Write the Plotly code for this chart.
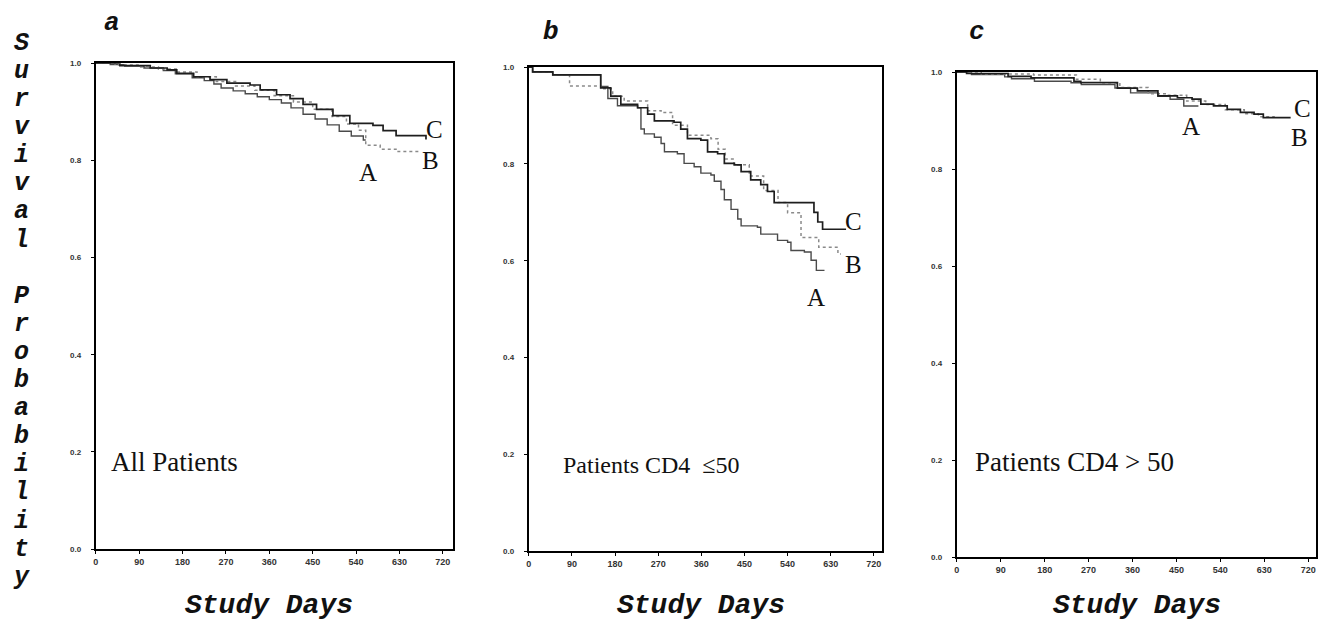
import plotly.graph_objects as go

W, H = 1328, 633

# ---------------- data ----------------
tick_days = [0, 90, 180, 270, 360, 450, 540, 630, 720]
tick_days_text = ["0", "90", "180", "270", "360", "450", "540", "630", "720"]
tick_prob = [0.0, 0.2, 0.4, 0.6, 0.8, 1.0]
tick_prob_text = ["0.0", "0.2", "0.4", "0.6", "0.8", "1.0"]

# Panel a : All patients
a_t_A = [0, 30, 60, 100, 140, 165, 200, 225, 245, 260, 285, 310, 335, 360, 385, 405, 430, 455, 480, 505, 530, 555, 560]
a_S_A = [1.0, 0.997, 0.994, 0.99, 0.985, 0.978, 0.97, 0.964, 0.957, 0.949, 0.943, 0.937, 0.931, 0.925, 0.918, 0.908, 0.895, 0.885, 0.873, 0.86, 0.85, 0.842, 0.842]
a_t_B = [0, 40, 90, 130, 170, 210, 250, 290, 330, 370, 410, 450, 490, 520, 545, 560, 590, 625, 672]
a_S_B = [1.0, 0.996, 0.992, 0.988, 0.982, 0.972, 0.962, 0.953, 0.944, 0.933, 0.92, 0.905, 0.89, 0.875, 0.862, 0.831, 0.823, 0.818, 0.816]
a_t_C = [0, 50, 113, 148, 168, 203, 237, 272, 320, 341, 375, 403, 430, 458, 492, 527, 575, 596, 623, 685]
a_S_C = [1.0, 0.995, 0.99, 0.986, 0.979, 0.972, 0.966, 0.959, 0.955, 0.945, 0.935, 0.927, 0.915, 0.905, 0.892, 0.876, 0.872, 0.861, 0.851, 0.843]

# Panel b : CD4 <= 50
b_t_A = [0, 8, 50, 150, 165, 185, 227, 234, 241, 262, 276, 283, 310, 324, 345, 359, 380, 387, 401, 408, 422, 436, 443, 477, 484, 519, 540, 547, 575, 589, 600, 617]
b_S_A = [1.0, 0.99, 0.984, 0.96, 0.935, 0.92, 0.916, 0.872, 0.862, 0.855, 0.842, 0.825, 0.821, 0.801, 0.794, 0.781, 0.777, 0.764, 0.747, 0.726, 0.706, 0.686, 0.672, 0.669, 0.655, 0.642, 0.638, 0.621, 0.618, 0.601, 0.58, 0.58]
b_t_B = [0, 8, 50, 85, 150, 175, 199, 248, 276, 300, 331, 380, 395, 410, 428, 460, 490, 520, 540, 568, 605, 645, 651]
b_S_B = [1.0, 0.99, 0.984, 0.961, 0.955, 0.94, 0.93, 0.91, 0.906, 0.88, 0.859, 0.852, 0.83, 0.81, 0.798, 0.775, 0.745, 0.72, 0.699, 0.648, 0.628, 0.614, 0.614]
b_t_C = [0, 8, 50, 150, 171, 192, 227, 248, 262, 303, 317, 331, 359, 373, 394, 408, 429, 443, 463, 484, 498, 512, 595, 603, 613, 662]
b_S_C = [1.0, 0.99, 0.984, 0.957, 0.94, 0.923, 0.916, 0.903, 0.889, 0.886, 0.872, 0.852, 0.849, 0.825, 0.821, 0.801, 0.798, 0.784, 0.767, 0.757, 0.743, 0.72, 0.70, 0.68, 0.665, 0.665]

# Panel c : CD4 > 50
c_t_A = [0, 30, 98, 112, 159, 234, 255, 324, 356, 412, 437, 465, 495]
c_S_A = [1.0, 0.995, 0.99, 0.986, 0.981, 0.978, 0.974, 0.967, 0.957, 0.95, 0.944, 0.93, 0.93]
c_t_B = [0, 50, 157, 245, 294, 334, 392, 432, 471, 510, 550, 589, 618, 650]
c_S_B = [1.0, 0.996, 0.994, 0.985, 0.978, 0.968, 0.955, 0.952, 0.94, 0.933, 0.922, 0.914, 0.908, 0.903]
c_t_C = [0, 20, 105, 152, 240, 254, 329, 370, 412, 452, 482, 500, 526, 554, 581, 609, 628, 684]
c_S_C = [1.0, 0.997, 0.991, 0.988, 0.981, 0.978, 0.967, 0.961, 0.951, 0.947, 0.944, 0.934, 0.930, 0.923, 0.917, 0.913, 0.906, 0.906]

panel_letters = ["a", "b", "c"]
panel_texts = ["All Patients", "Patients CD4  \u226450", "Patients CD4 > 50"]
group_names = ["A", "B", "C"]
xlabel = "Study Days"
ylabel = "Survival Probability"

# ---------------- layout geometry (pixels) ----------------
panels = [
    dict(x0=93, x1=451, ytop=60, ybot=553, xmax=741,
         series=[(a_t_A, a_S_A), (a_t_B, a_S_B), (a_t_C, a_S_C)],
         lab=[(565, 0.775), (694, 0.799), (703, 0.864)], txt=(28, 0.18, 27),
         letter=(109, 19), xl=267),
    dict(x0=527, x1=881, ytop=64, ybot=555, xmax=737,
         series=[(b_t_A, b_S_A), (b_t_B, b_S_B), (b_t_C, b_S_C)],
         lab=[(599, 0.525), (678, 0.593), (678, 0.680)], txt=(67, 0.178, 24),
         letter=(549, 28), xl=700),
    dict(x0=956, x1=1316, ytop=69, ybot=561, xmax=736,
         series=[(c_t_A, c_S_A), (c_t_B, c_S_B), (c_t_C, c_S_C)],
         lab=[(479, 0.888), (703, 0.864), (708, 0.925)], txt=(33, 0.195, 27),
         letter=(976, 28), xl=1137),
]

styles = [
    dict(color="#4a4a4a", width=1.4, dash="solid"),
    dict(color="#8a8a8a", width=1.5, dash="dot"),
    dict(color="#1e1e1e", width=1.7, dash="solid"),
]

mono = "Liberation Mono"
serif = "Liberation Serif"

fig = go.Figure()
annotations = []
layout_axes = {}

for i, p in enumerate(panels):
    sfx = "" if i == 0 else str(i + 1)
    xref, yref = "x" + sfx, "y" + sfx
    for (t, s), st, nm in zip(p["series"], styles, group_names):
        fig.add_trace(go.Scatter(
            x=t, y=s, mode="lines", name=nm, showlegend=False,
            line=dict(shape="hv", color=st["color"], width=st["width"], dash=st["dash"]),
            xaxis=xref, yaxis=yref, hoverinfo="skip"))
    layout_axes["xaxis" + sfx] = dict(
        domain=[p["x0"] / W, p["x1"] / W], range=[0, p["xmax"]], anchor=yref,
        tickvals=tick_days, ticktext=tick_days_text, showline=True, linecolor="black",
        linewidth=2, mirror=True, ticks="outside", ticklen=3, tickcolor="black",
        showgrid=False, zeroline=False,
        tickfont=dict(family="Liberation Sans", size=9, color="#333", weight="bold"))
    layout_axes["yaxis" + sfx] = dict(
        domain=[1 - p["ybot"] / H, 1 - p["ytop"] / H], range=[0, 1.0], anchor=xref,
        tickvals=tick_prob, ticktext=tick_prob_text, showline=True, linecolor="black",
        linewidth=2, mirror=True, ticks="outside", ticklen=3, tickcolor="black",
        showgrid=False, zeroline=False, ticklabelstandoff=8,
        tickfont=dict(family="Liberation Sans", size=8, color="#333", weight="bold"))
    for (lx, ly), nm in zip(p["lab"], group_names):
        annotations.append(dict(x=lx, y=ly, xref=xref, yref=yref, text=nm, showarrow=False,
                                font=dict(family=serif, size=25, color="#111"),
                                xanchor="center", yanchor="middle"))
    annotations.append(dict(x=p["txt"][0], y=p["txt"][1], xref=xref, yref=yref,
                            text=panel_texts[i], showarrow=False, xanchor="left", yanchor="middle",
                            font=dict(family=serif, size=p["txt"][2], color="#111")))
    annotations.append(dict(x=p["letter"][0] / W, y=1 - p["letter"][1] / H, xref="paper", yref="paper",
                            text=panel_letters[i], showarrow=False, xanchor="center", yanchor="middle",
                            font=dict(family=mono, size=26, color="#111", weight="bold", style="italic")))
    annotations.append(dict(x=p["xl"] / W, y=1 - 610 / H, xref="paper", yref="paper",
                            text=xlabel, showarrow=False, xanchor="center", yanchor="middle",
                            font=dict(family=mono, size=28, color="#111", weight="bold", style="italic")))

# stacked vertical y label
for k, ch in enumerate(ylabel):
    if ch == " ":
        continue
    annotations.append(dict(x=19 / W, y=1 - (40 + 28.5 * k) / H, xref="paper", yref="paper",
                            text=ch, showarrow=False, xanchor="center", yanchor="middle",
                            font=dict(family=mono, size=25, color="#111", weight="bold", style="italic")))

fig.update_layout(
    width=W, height=H, margin=dict(l=0, r=0, t=0, b=0),
    paper_bgcolor="white", plot_bgcolor="white", showlegend=False,
    annotations=annotations, **layout_axes)

fig.write_html("out.html", config={"displayModeBar": False})
